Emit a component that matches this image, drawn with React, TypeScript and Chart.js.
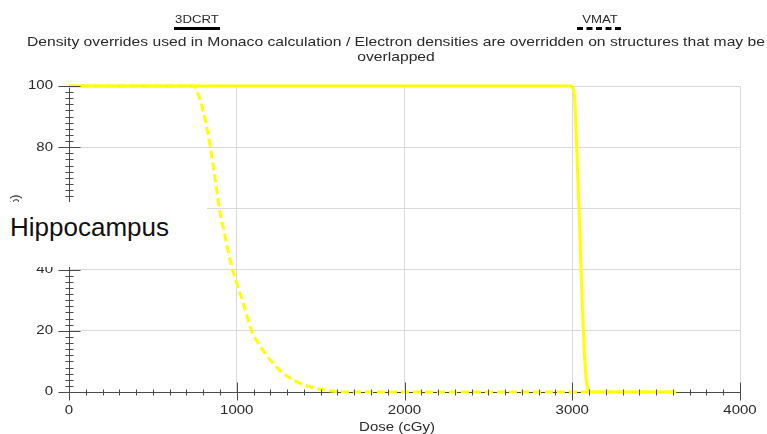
import React, { useEffect, useRef } from "react";
import { Chart, registerables } from "chart.js";

Chart.register(...registerables);

// ---------- data ----------
const seriesLabels = ["3DCRT", "VMAT"];
const doseCRT = [0, 2995, 3005, 3012, 3026, 3040, 3052, 3066, 3080, 3090, 3098, 3620];
const volCRT = [100, 100, 99, 97.4, 80.4, 60.3, 40, 20, 6, 1.5, 0, 0];
const doseVMAT = [0, 741, 781, 811, 841, 870, 896, 930, 965, 1000, 1039, 1089, 1158, 1258, 1357, 1456, 1556, 1656, 3620];
const volVMAT = [100, 100, 95.5, 89, 80.4, 70, 60, 51, 42, 35.5, 29, 20, 13.5, 7, 3.4, 1.4, 0.4, 0, 0];
const titleLines = [
  "Density overrides used in Monaco calculation / Electron densities are overridden on structures that may be",
  "overlapped",
];
const xTickValues = [0, 1000, 2000, 3000, 4000];
const yTickValues = [0, 20, 40, 60, 80, 100];
const xTitle = "Dose (cGy)";
const yTitle = "Volume (%)";
const structureLabel = "Hippocampus";

// ---------- styles ----------
const FONT = "'Liberation Sans', Arial, Helvetica, sans-serif";
const SX = 1.2;
const TEXT = "#2a2a2a";
const AXIS = "#4a4a4a";

function drawText(
  ctx: CanvasRenderingContext2D,
  text: string,
  x: number,
  y: number,
  size: number,
  sx: number,
  align: CanvasTextAlign,
  baseline: CanvasTextBaseline,
  color: string
) {
  ctx.save();
  ctx.font = `${size}px ${FONT}`;
  ctx.fillStyle = color;
  ctx.textAlign = align;
  ctx.textBaseline = baseline;
  ctx.translate(x, y);
  ctx.scale(sx, 1);
  ctx.fillText(text, 0, 0);
  ctx.restore();
}

const decorPlugin = {
  id: "decor",
  afterDatasetsDraw(chart: any) {
    const ctx: CanvasRenderingContext2D = chart.ctx;
    const xs = chart.scales.x;
    const ys = chart.scales.y;
    const ax = Math.round(xs.left) + 0.5;
    const ay = Math.round(ys.bottom) + 0.5;
    ctx.save();
    ctx.strokeStyle = AXIS;
    ctx.lineWidth = 1;
    ctx.beginPath();
    for (let v = 0; v <= 100; v += 2) {
      const py = Math.round(ys.getPixelForValue(v)) + 0.5;
      if (v % 20 === 0) {
        ctx.moveTo(ax - 11, py);
        ctx.lineTo(ax + 11, py);
      } else {
        ctx.moveTo(ax - 4, py);
        ctx.lineTo(ax + 4, py);
      }
    }
    for (let v = 0; v <= 4000; v += 100) {
      const px = Math.round(xs.getPixelForValue(v)) + 0.5;
      if (v % 1000 === 0) {
        ctx.moveTo(px, ay - 10);
        ctx.lineTo(px, ay + 8);
      } else {
        ctx.moveTo(px, ay - 3);
        ctx.lineTo(px, ay + 3);
      }
    }
    ctx.stroke();
    ctx.restore();
  },
  afterDraw(chart: any) {
    const ctx: CanvasRenderingContext2D = chart.ctx;
    const xs = chart.scales.x;
    const ys = chart.scales.y;

    // tick labels
    yTickValues.forEach((v) => {
      drawText(ctx, String(v), 53, ys.getPixelForValue(v), 12.5, SX, "right", "middle", TEXT);
    });
    xTickValues.forEach((v) => {
      drawText(ctx, String(v), xs.getPixelForValue(v), 411, 12.5, SX, "center", "middle", TEXT);
    });

    // axis titles
    drawText(ctx, xTitle, 397, 431, 12.5, SX, "center", "alphabetic", TEXT);
    ctx.save();
    ctx.translate(16, 227);
    ctx.rotate(-Math.PI / 2);
    ctx.font = `12.5px ${FONT}`;
    ctx.fillStyle = TEXT;
    ctx.textAlign = "center";
    ctx.textBaseline = "middle";
    ctx.fillText(yTitle, 0, 0);
    ctx.restore();

    // title
    ctx.save();
    ctx.font = `13px ${FONT}`;
    const w = ctx.measureText(titleLines[0]).width;
    ctx.restore();
    const tsx = 738 / w;
    titleLines.forEach((line, i) => {
      drawText(ctx, line, 396, 46 + i * 15, 13, tsx, "center", "alphabetic", TEXT);
    });

    // legend
    const legendX = [197, 600];
    chart.data.datasets.forEach((ds: any, i: number) => {
      const cx = legendX[i];
      drawText(ctx, ds.label, cx, 23, 11, SX, "center", "alphabetic", TEXT);
      ctx.save();
      ctx.strokeStyle = "#000";
      ctx.lineWidth = 3;
      ctx.setLineDash(ds.borderDash ? [6, 3.5] : []);
      ctx.beginPath();
      ctx.moveTo(cx - 23, 28.5);
      ctx.lineTo(cx + 23, 28.5);
      ctx.stroke();
      ctx.restore();
    });
  },
};

export default function App() {
  const canvasRef = useRef<HTMLCanvasElement | null>(null);

  useEffect(() => {
    if (!canvasRef.current) return;
    const chart = new Chart(canvasRef.current, {
      type: "line",
      data: {
        datasets: [
          {
            label: seriesLabels[0],
            data: doseCRT.map((x, i) => ({ x, y: volCRT[i] })),
            borderColor: "#ffff00",
            borderWidth: 3,
            pointRadius: 0,
            fill: false,
            cubicInterpolationMode: "monotone",
            clip: false as any,
          },
          {
            label: seriesLabels[1],
            data: doseVMAT.map((x, i) => ({ x, y: volVMAT[i] })),
            borderColor: "#ffff00",
            borderWidth: 3,
            borderDash: [8, 4],
            pointRadius: 0,
            fill: false,
            cubicInterpolationMode: "monotone",
            clip: false as any,
          },
        ],
      },
      options: {
        responsive: false,
        animation: false,
        devicePixelRatio: 1,
        layout: { padding: { left: 69, top: 86, right: 27, bottom: 42 } },
        plugins: {
          legend: { display: false },
          title: { display: false },
          tooltip: { enabled: false },
        },
        scales: {
          x: {
            type: "linear",
            min: 0,
            max: 4000,
            ticks: { display: false, stepSize: 1000 },
            grid: { color: "#d9d9d9", drawTicks: false, lineWidth: 1 },
            border: { color: AXIS, width: 1 },
            afterFit: (s: any) => {
              s.height = 0;
            },
          },
          y: {
            type: "linear",
            min: 0,
            max: 100,
            ticks: { display: false, stepSize: 20 },
            grid: { color: "#d9d9d9", drawTicks: false, lineWidth: 1 },
            border: { color: AXIS, width: 1 },
            afterFit: (s: any) => {
              s.width = 0;
            },
          },
        },
      },
      plugins: [decorPlugin],
    });
    return () => chart.destroy();
  }, []);

  return (
    <div
      style={{
        position: "fixed",
        left: 0,
        top: 0,
        width: 767,
        height: 434,
        background: "#ffffff",
        overflow: "hidden",
      }}
    >
      <canvas ref={canvasRef} width={767} height={434} style={{ display: "block" }} />
      <div
        style={{
          position: "absolute",
          left: 0,
          top: 202,
          width: 207,
          height: 65,
          background: "#ffffff",
        }}
      >
        <span
          style={{
            position: "absolute",
            left: 10,
            top: 12,
            fontFamily: FONT,
            fontSize: 26,
            lineHeight: "26px",
            color: "#111",
            whiteSpace: "nowrap",
          }}
        >
          {structureLabel}
        </span>
      </div>
    </div>
  );
}
